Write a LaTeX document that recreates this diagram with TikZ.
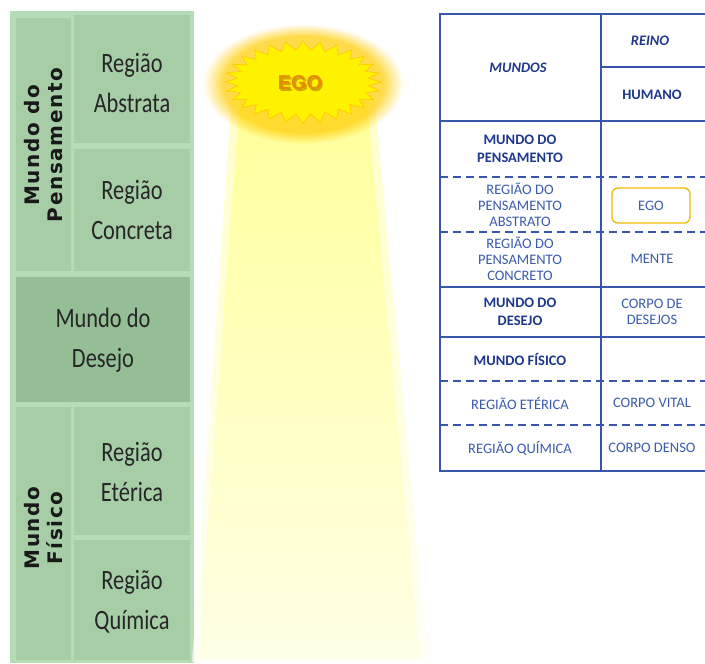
\documentclass[tikz,border=0pt]{standalone}
\usepackage{fontspec}
\setmainfont{Carlito}
\newfontfamily\stripfont[LetterSpace=8.0]{DejaVu Sans}
\newfontfamily\egofont{Liberation Sans}
\usetikzlibrary{fadings}

\definecolor{panelgreen}{RGB}{182,220,182}
\definecolor{cellgreen}{RGB}{167,205,167}
\definecolor{desejogreen}{RGB}{150,190,150}
\definecolor{tblue}{RGB}{55,85,170}
\definecolor{tdark}{RGB}{30,55,140}
\definecolor{tlight}{RGB}{60,90,170}
\definecolor{egoorange}{RGB}{228,140,0}
\definecolor{starfill}{RGB}{255,242,0}

\tikzset{
  celltext/.style={align=center, text=black!85, xscale=0.8,
    font=\fontsize{28}{40}\selectfont},
  striptext/.style={align=center, rotate=90, text=black!90,
    font=\stripfont\bfseries\fontsize{20}{23}\selectfont},
  tbold/.style={align=center, text=tdark, font=\bfseries\fontsize{14.5}{18}\selectfont},
  tnorm/.style={align=center, text=tlight, font=\fontsize{14.5}{16}\selectfont},
  tline/.style={tblue, line width=1.2pt},
  tdash/.style={tblue, line width=1.2pt, dash pattern=on 8pt off 5pt},
  egobox/.style={draw=egoorange!60!yellow, line width=1.3pt, rounded corners=6pt,
    minimum width=78pt, minimum height=35pt, text=tlight,
    font=\fontsize{14.5}{16}\selectfont}
}

\begin{document}
\begin{tikzpicture}[x=1pt,y=-1pt]
\useasboundingbox (0,0) rectangle (705,664);

% left panel
\fill[panelgreen] (10,11) rectangle (194,663);
\fill[cellgreen] (16,18) rectangle (71,271);
\fill[cellgreen] (74,15) rectangle (190,143);
\fill[cellgreen] (74,149) rectangle (190,271);
\fill[desejogreen] (16,277) rectangle (190,402);
\fill[cellgreen] (16,407) rectangle (71,660);
\fill[cellgreen] (74,407) rectangle (190,535);
\fill[cellgreen] (74,540) rectangle (190,660);

\node[striptext] (pensamento) at (44,145) {Mundo do\\Pensamento};
\node[celltext] (abstrata) at (132,83) {Região\\Abstrata};
\node[celltext] (concreta) at (132,210) {Região\\Concreta};
\node[celltext] (desejo) at (103,340) {Mundo do\\Desejo};
\node[striptext] (fisico) at (44,528) {Mundo\\Físico};
\node[celltext] (eterica) at (132,472) {Região\\Etérica};
\node[celltext] (quimica) at (132,602) {Região\\Química};

% light beam
\shade[top color=yellow!35, bottom color=yellow!6, opacity=0.6]
  (232,95) -- (374,95) -- (428,662) -- (192,662) -- cycle;
\shade[top color=yellow!40, bottom color=yellow!10]
  (240,95) -- (366,95) -- (420,658) -- (198,658) -- cycle;

% ego star
\fill[orange!40!yellow, opacity=0.7, path fading=circle with fuzzy edge 20 percent]
  (303,84) ellipse (100 and 60);
\fill[starfill, draw=orange!45!yellow, line width=0.6pt]
  plot[samples at={0,...,55}, variable=\k]
    ({303+(mod(\k,2)==0 ? 78 : 66)*cos(360/56*\k)},
     {82+(mod(\k,2)==0 ? 41 : 32)*sin(360/56*\k)}) -- cycle;
\node[text=orange!60!black, opacity=0.45, font=\egofont\bfseries\fontsize{20}{22}\selectfont]
  at (301.5,84.5) {EGO};
\node[text=egoorange, font=\egofont\bfseries\fontsize{20}{22}\selectfont]
  (ego) at (300,83) {EGO};

% table
\draw[tline] (710,14) -- (440,14) -- (440,471) -- (710,471);
\draw[tline] (601,14) -- (601,471);
\draw[tline] (601,67) -- (710,67);
\draw[tline] (440,121) -- (710,121);
\draw[tdash] (440,177) -- (710,177);
\draw[tdash] (440,232) -- (710,232);
\draw[tline] (440,287) -- (710,287);
\draw[tline] (440,337) -- (710,337);
\draw[tdash] (440,381) -- (710,381);
\draw[tdash] (440,425) -- (710,425);

\node[tbold, font=\bfseries\itshape\fontsize{14.5}{18}\selectfont] (mundos) at (518,68) {MUNDOS};
\node[tbold, font=\bfseries\itshape\fontsize{14.5}{18}\selectfont] (reino) at (650,41) {REINO};
\node[tbold] (humano) at (652,95) {HUMANO};
\node[tbold] (mpens) at (520,149) {MUNDO DO\\PENSAMENTO};
\node[tnorm] (rabs) at (520,205) {REGIÃO DO\\PENSAMENTO\\ABSTRATO};
\node[egobox] (egocell) at (651,205.5) {EGO};
\node[tnorm] (rcon) at (520,259) {REGIÃO DO\\PENSAMENTO\\CONCRETO};
\node[tnorm] (mente) at (652,259) {MENTE};
\node[tbold] (mdes) at (520,312) {MUNDO DO\\DESEJO};
\node[tnorm] (cdes) at (652,312) {CORPO DE\\DESEJOS};
\node[tbold] (mfis) at (520,359) {MUNDO FÍSICO};
\node[tnorm] (reter) at (520,403) {REGIÃO ETÉRICA};
\node[tnorm] (cvital) at (652,403) {CORPO VITAL};
\node[tnorm] (rquim) at (520,448) {REGIÃO QUÍMICA};
\node[tnorm] (cdenso) at (652,448) {CORPO DENSO};
\end{tikzpicture}
\end{document}
